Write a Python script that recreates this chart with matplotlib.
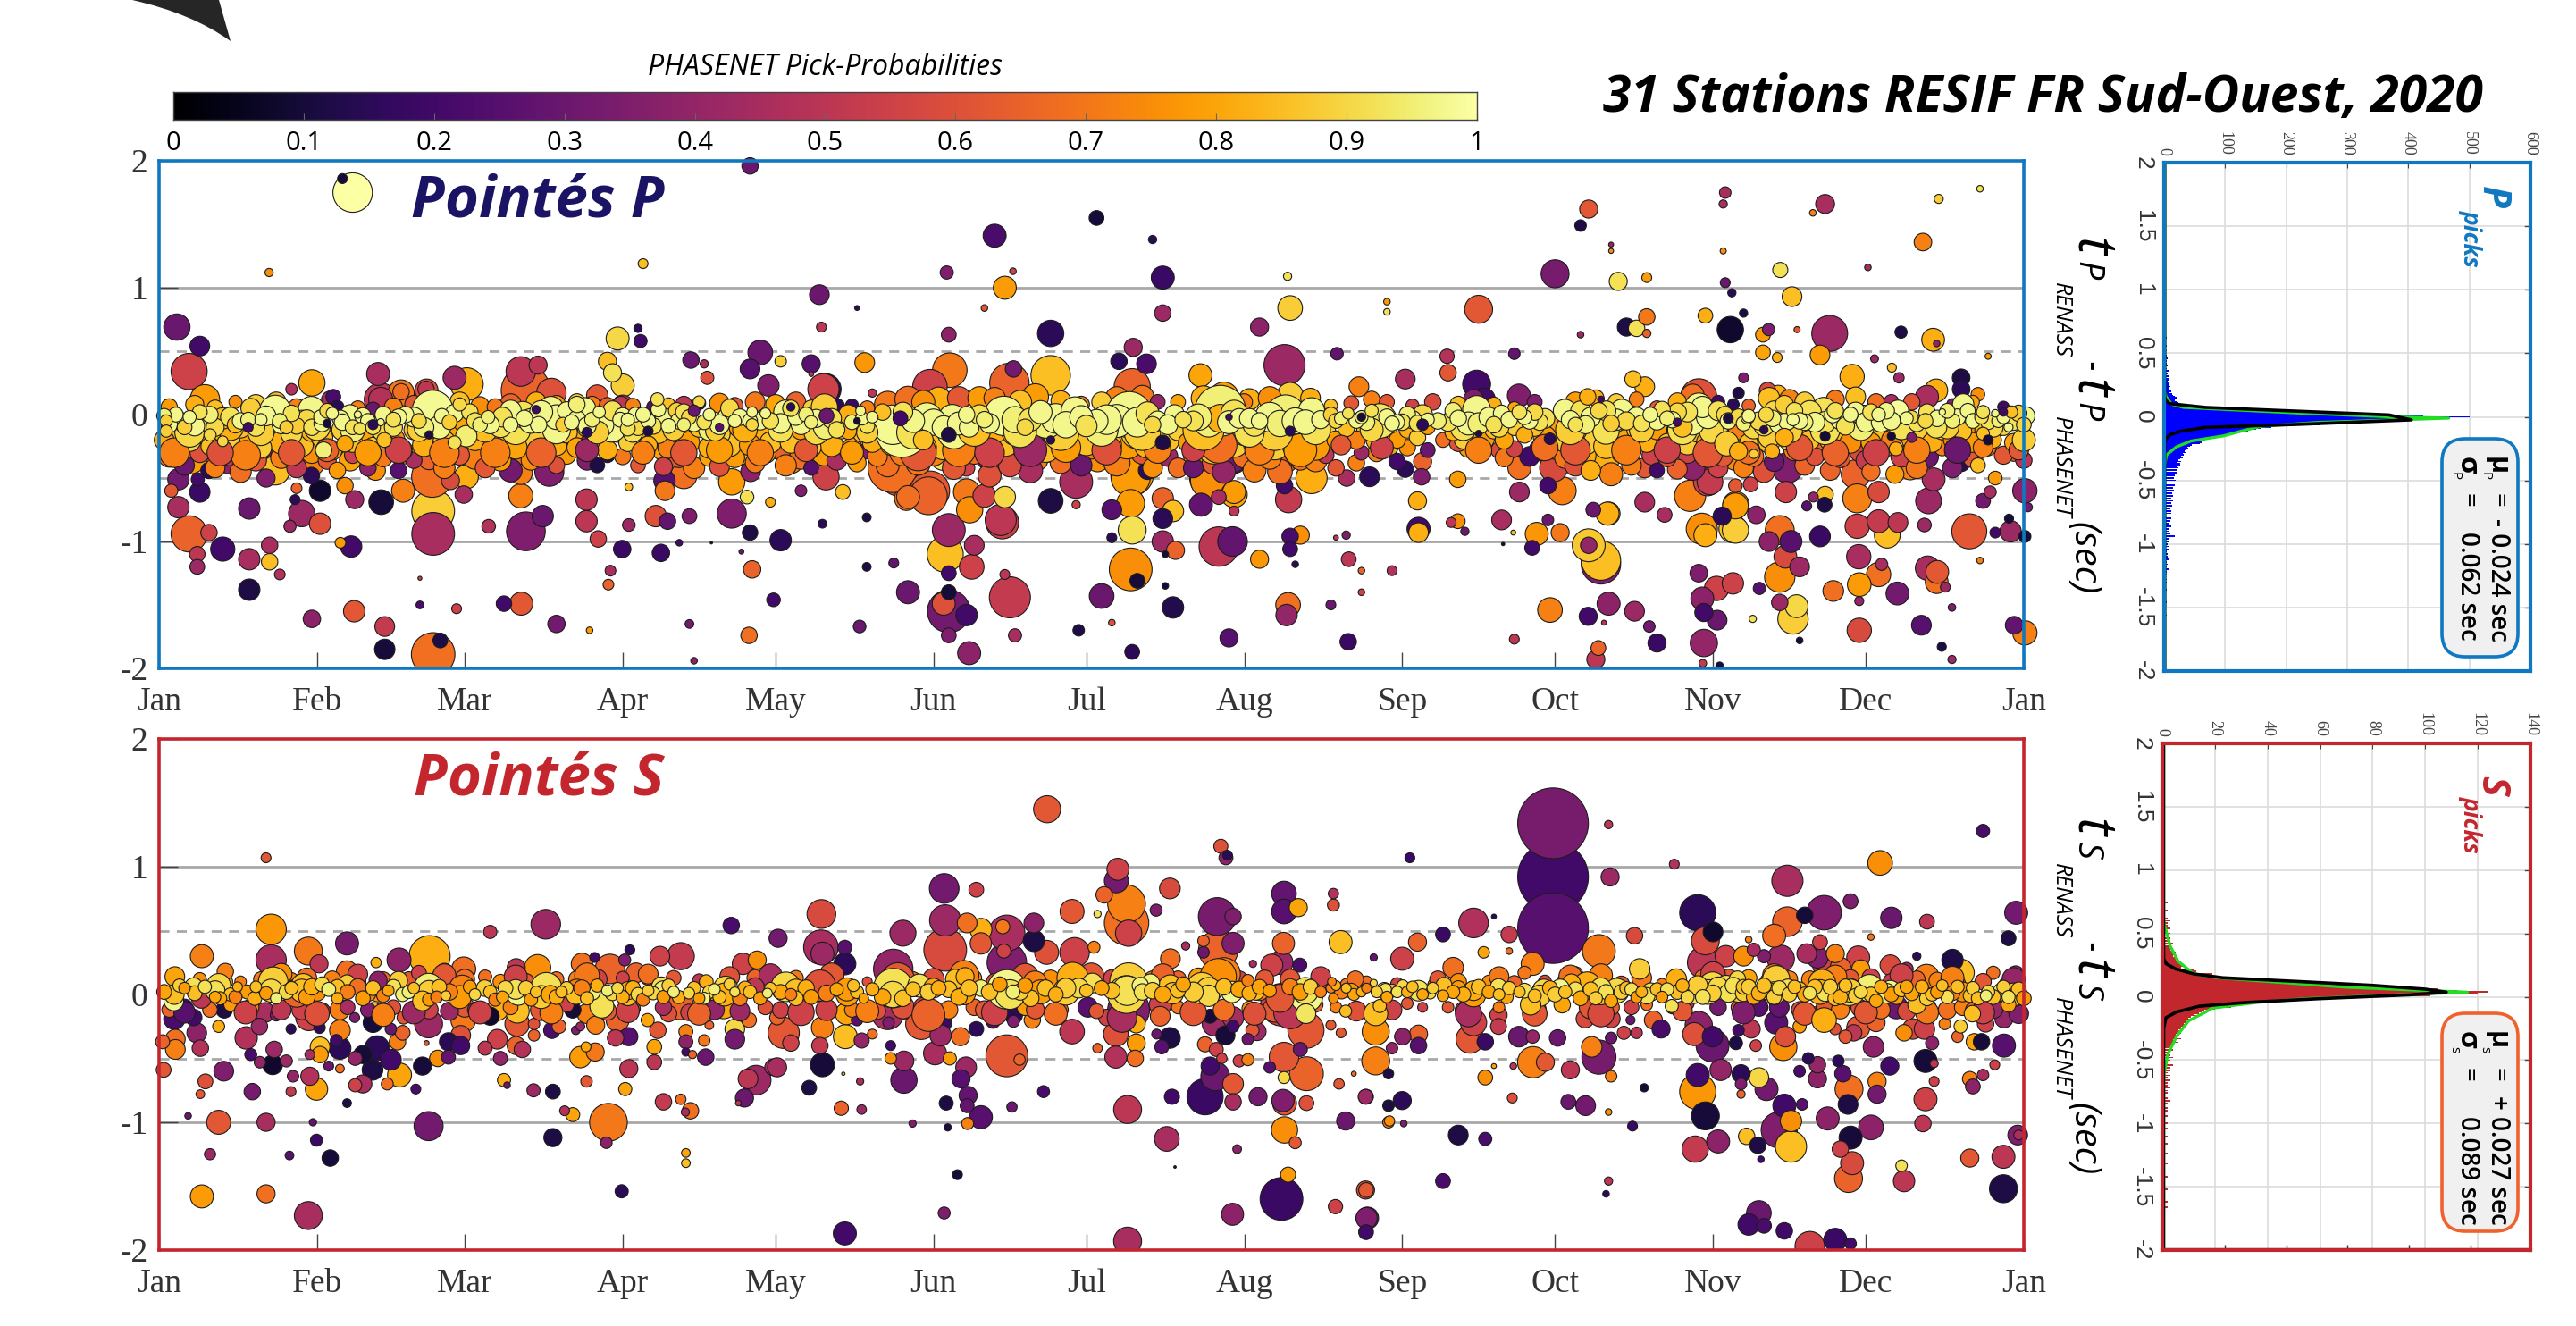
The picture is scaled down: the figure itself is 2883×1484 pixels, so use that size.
import matplotlib

matplotlib.use("Agg")
import matplotlib.pyplot as plt
import numpy as np
from matplotlib.patches import FancyBboxPatch, PathPatch, Rectangle
from matplotlib.path import Path

W, H = 2883, 1484

month_days = [0, 31, 60, 91, 121, 152, 182, 213, 244, 274, 305, 335, 366]
month_names = ["Jan", "Feb", "Mar", "Apr", "May", "Jun", "Jul", "Aug", "Sep", "Oct", "Nov", "Dec", "Jan"]
prob_ticks = [0, 0.1, 0.2, 0.3, 0.4, 0.5, 0.6, 0.7, 0.8, 0.9, 1]
prob_labels = ["0", "0.1", "0.2", "0.3", "0.4", "0.5", "0.6", "0.7", "0.8", "0.9", "1"]

# picks as (day of year, t_renass - t_phasenet in s, phasenet probability, bubble diameter)
p_above = [
    (38,1.75,1,24),(36,1.86,.1,6),(116,1.96,.3,10),(21.6,1.12,.75,5),(95,1.19,.85,6),(3.5,.69,.3,16),(8,.54,.2,12),
    (90,.6,.9,14),(94,.68,.15,5),(94.5,.58,.2,8),(129.6,.945,.3,12),(137,.84,.15,3),(130,.69,.5,6),(118,.49,.3,15),
    (104.4,.43,.3,10),(107,.4,.45,5),(107.6,.29,.6,8),(116,.36,.25,12),(119.6,.23,.35,13),(128,.4,.25,11),(128,.32,.5,3),
    (122,.42,.88,7),(138.5,.41,.77,12),(140,.17,.5,5),(130.8,.2,.15,19),(88,.42,.85,11),(89,.33,.92,11),(91,.23,.88,14),
    (86,.15,.62,13),(91,.07,.5,13),(30,.25,.8,16),(26,.2,.48,7),(43,.32,.45,14),(58,.29,.42,14),(60.4,.24,.82,20),
    (71,.34,.5,18),(74.4,.39,.5,11),(72,.19,.65,30),(77,.17,.6,18),(9,.12,.78,18),(47.5,.17,.7,16),(43.5,.12,.5,20),
    (52.5,.19,.6,14),(5.9,.34,.55,22),(184,1.55,.1,9),(164,1.41,.22,14),(195,1.38,.15,5),(167.6,1.13,.55,4),(154.6,1.12,.35,8),
    (166,1,.78,14),(197,1.08,.18,14),(162,.84,.62,4),(155,.63,.38,9),(175,.64,.15,16),(197,.8,.42,10),(216,.69,.38,11),
    (222,.84,.88,15),(221.5,1.09,.92,5),(241,.89,.78,4),(241,.81,.92,4),(259,.83,.62,17),(280.6,1.62,.62,11),(279,1.49,.12,7),
    (274,1.11,.33,17),(285,1.34,.4,3),(285,1.29,.75,3),(286.4,1.05,.92,11),(292,1.08,.78,6),(279,.63,.42,4),(288,.69,.12,11),
    (290,.68,.92,10),(292,.77,.7,10),(292,.64,.65,5),(303.5,.78,.82,9),(307.4,1.75,.45,7),(307,1.66,.45,5),(327,1.66,.45,11.5),
    (324.6,1.59,.72,4),(349.3,1.7,.88,5.5),(357.4,1.78,.92,4),(346.2,1.36,.72,10.7),(335.4,1.16,.45,4),(318.2,1.14,.92,9.2),
    (320.5,.93,.85,12),(308.4,.67,.08,16),(311,.8,.12,5),(308.7,.96,.15,5),(307.4,1.04,.3,6),(307,1.29,.75,3.7),(315.9,.67,.35,7.4),
    (314.8,.63,.78,9),(314.8,.49,.8,9),(317.6,.45,.82,6),(321.5,.67,.62,3.7),(327.9,.64,.42,21.8),(326,.47,.78,12),(341.9,.65,.12,7.4),
    (348.2,.59,.82,13.9),(348.9,.56,.38,4),(359,.46,.78,3.7),(336.7,.44,.42,4.8),(340.1,.37,.85,5.5),(341.5,.29,.42,6.3),
    (332.3,.3,.82,14.8),(353.7,.29,.12,10.7),(353.7,.2,.15,10.7),(357,.16,.75,8.3),(348.8,.19,.82,14),(347,.14,.45,14),(311,.29,.35,6),
    (315.7,.19,.58,10),(317.8,.16,.82,11),(310,.17,.12,7),(33.5,.12,.45,10),(47.5,.18,.68,10),(52.4,.2,.5,10),(43.5,.12,.48,14.7),
    (34.2,.14,.22,9),(90.7,.08,.5,10),(130.4,.2,.55,19),(155.2,.35,.7,21),(151.3,.22,.55,21),(167.7,.36,.32,10),(166.9,.25,.65,24),
    (175,.31,.85,24),(191.2,.53,.42,11),(188.4,.42,.15,10),(193.8,.4,.22,12),(191,.22,.65,22),(204.4,.31,.8,14),(220.9,.39,.42,25),
    (231.2,.48,.28,7.6),(235.5,.22,.72,12),(244.6,.28,.45,12),(252.8,.46,.48,8.7),(253,.33,.62,10),(258.6,.24,.2,17),(266.9,.15,.35,14),
    (289.3,.28,.85,10),(291.6,.22,.82,12),(266,.48,.28,7),(302.2,.14,.6,22),(260,.12,.2,14),(214,.12,.82,13),
]
p_below_a = [
    (5.9,-.32,.78,23),(18,-.28,.78,14),(22.8,-.23,.8,17.7),(22.8,-.36,.32,17.7),(22.8,-.44,.85,17.7),(29.9,-.38,.72,16),(29.9,-.48,.15,10),
    (31.6,-.6,.08,13),(36.5,-.56,.75,10),(37.5,-.36,.8,13),(38.4,-.67,.42,11),(42.5,-.44,.75,12),(47.9,-.6,.72,14),(43.6,-.69,.1,15),
    (48.4,-.33,.82,9),(53.6,-.29,.78,17.7),(53.6,-.49,.68,25),(60.3,-.49,.82,14.7),(57.2,-.52,.58,11),(59.8,-.63,.45,10.6),(53.8,-.76,.88,26),
    (53.8,-.94,.45,26),(28,-.78,.42,16),(31.6,-.86,.6,13),(25.7,-.88,.42,7.4),(26.7,-.67,.15,6),(27,-.58,.65,6.5),(17.7,-.74,.3,13),
    (13.5,-.4,.38,10),(11.7,-.36,.8,7.4),(9.8,-.44,.15,10),(7.6,-.51,.2,8),(3.8,-.51,.32,13),(8,-.61,.18,12.4),(2.4,-.6,.62,8),(3.8,-.73,.45,13),
    (5.9,-.94,.65,22),(9.8,-.93,.55,10),(12.5,-1.06,.2,14.7),(7.5,-1.1,.5,9.4),(7.5,-1.2,.42,9),(17.7,-1.14,.45,13),(21.7,-1.03,.45,10),
    (21.7,-1.16,.85,10),(23.7,-1.26,.48,6.5),(17.7,-1.38,.12,13),(30,-1.61,.38,10.6),(38.3,-1.55,.62,13),(44.3,-1.67,.52,12),(44.3,-1.85,.1,12.4),
    (53.8,-1.89,.68,26.5),(55.2,-1.78,.12,9),(37.7,-1.04,.2,13),(35.6,-1.01,.78,6.5),(51.2,-1.29,.55,2.4),(51.2,-1.5,.22,4.7),(58.4,-1.53,.55,6),
    (67.7,-1.49,.2,9.4),(71.1,-1.49,.62,14),(78,-1.65,.32,10.6),(84.5,-1.7,.78,4),(88.6,-1.23,.45,6.5),(88.2,-1.34,.65,6.5),(104.1,-1.65,.32,5.3),
    (115.8,-1.74,.68,10),(105,-1.94,.38,4),(120.6,-1.46,.2,8.3),(116.4,-1.22,.65,10.6),(114.3,-1.08,.3,3),(64.7,-.88,.48,8.3),(72,-.92,.35,23.6),
    (75.3,-.8,.3,13),(86.2,-.98,.55,10),(83.9,-.84,.5,13),(83.9,-.67,.5,13),(90.9,-1.06,.18,10.6),(98.5,-1.09,.18,10.6),(102.1,-1.01,.2,4),
    (108.4,-1.01,.1,1.5),(92.2,-.87,.42,7.7),(92.2,-.57,.85,4.7),(99.8,-.84,.28,10),(97.5,-.8,.6,13),(104.1,-.8,.35,9),(99.2,-.52,.25,13),
    (99.3,-.6,.7,12),(103,-.48,.68,16),(98.5,-.29,.8,10),(112.4,-.53,.78,16),(112.4,-.78,.35,17.7),(115.4,-.65,.92,8.3),(116.1,-.45,.38,12),
    (115.4,-.3,.82,16),(116,-.93,.12,9.4),(122,-.99,.15,13),(126,-.6,.35,7),(134.2,-.61,.85,9),(130.9,-.49,.55,16),(130.6,-.3,.78,16),
    (122,-.28,.65,12.4),(124,-.37,.72,14.7),(120,-.69,.82,6),(130.2,-.86,.15,5.3),(138.9,-.81,.12,5.3),(138.9,-1.2,.12,5.3),(144.2,-1.17,.28,6),
    (137.5,-1.67,.3,7.7),(138.6,-.29,.35,9.4),(146.7,-.66,.7,14.7),(145.8,-.44,.62,32),(65.7,-.26,.72,13),(71,-.31,.68,12.4),(71,-.46,.72,14),
    (71,-.64,.72,14.7),(76.6,-.45,.35,17.7),(77.9,-.29,.25,9.4),(83.9,-.24,.42,12.4),(82,-.15,.8,8),(100,-.16,.78,11),(103.5,-.11,.72,12),
]
p_below_b = [
    (147,-1.4,.3,14),(155,-.91,.42,20),(154.3,-1.1,.85,22),(160,-1.03,.45,12),(159.5,-1.2,.55,15),(155,-1.25,.2,9),(155,-1.55,.32,26),(154,-1.49,.6,14),
    (155,-1.4,.1,9),(158.5,-1.58,.2,13),(155,-1.74,.35,9),(168,-1.74,.45,8),(159,-1.88,.38,14),(167,-1.44,.52,25),(166,-1.26,.5,6),(165.5,-.85,.55,20),
    (166,-.65,.9,13),(162,-.64,.55,14),(151,-.64,.65,23),(147,-.65,.68,14),(175,-.68,.12,15),(180,-.53,.45,20),(180,-.71,.55,5),(190.7,-.49,.78,24),
    (190.7,-.7,.78,17),(191,-.91,.92,17),(190.7,-1.22,.75,26),(192,-1.31,.1,9),(185,-1.43,.3,15),(187,-1.64,.6,4),(180.5,-1.7,.12,7),(191,-1.87,.15,9),
    (187,-.97,.15,6),(187,-.75,.25,12),(194,-.44,.15,11),(197,-.66,.65,13),(199,-.76,.85,13),(197,-.82,.15,12),(197,-1.0,.42,13),(199.5,-1.07,.65,11),
    (197.5,-1.1,.1,4),(197.5,-1.35,.1,4),(199,-1.52,.13,13),(210,-1.76,.25,11),(208,-1.04,.5,24),(210.7,-1,.28,18),(216,-1.14,.77,11),(206,-.52,.75,22),
    (211,-.63,.8,16),(204.5,-.71,.28,14),(211,-.37,.32,13),(208,-.65,.45,9),(211,-.76,.5,6),(222,-.96,.22,10),(222,-1.06,.2,9),(224,-.95,.75,11),
    (223,-1.18,.15,4),(221.6,-1.5,.68,15),(221.3,-1.58,.4,13),(230,-1.5,.3,6),(233.4,-1.79,.18,10),(236,-1.4,.55,4),(236,-1.23,.65,4),(233.5,-1.14,.5,9),
    (242,-1.23,.48,6),(233,-.95,.35,5),(231,-.97,.5,3),(247.2,-.93,.82,12),(247.2,-.9,.2,14),(253.6,-.85,.5,6),(254.9,-.84,.75,9),(256.3,-.92,.3,5),
    (263.5,-.83,.45,12),(265.8,-.93,.85,3),(263.8,-1.02,.1,2),(266,-1.77,.5,6),(270.4,-.94,.77,14),(269.5,-1.05,.2,9),(275,-.93,.7,11),(272.6,-.83,.3,7),
    (283,-1.18,.35,24),(283,-1.15,.85,24),(280.6,-1.03,.87,20),(280.6,-1.03,.4,10),(284.5,-.78,.85,14),(281.5,-.75,.3,9),(284.5,-1.49,.38,14),
    (289.6,-1.55,.42,12),(292.5,-1.67,.32,7),(294,-1.8,.18,11),(280.5,-1.59,.2,11),(283.6,-1.64,.5,3),(273,-1.54,.72,15),(282.5,-1.84,.65,9),(282,-1.93,.5,11),
    (295.5,-.79,.45,9),(291.6,-.69,.45,12),(302.2,-1.25,.35,10.7),(305.7,-1.37,.55,14.8),(308.9,-1.33,.55,13),(302.9,-1.45,.38,14),(303.2,-1.56,.2,11),
    (305.8,-1.62,.3,12),(303.2,-1.8,.4,16.6),(303,-1.96,.52,4.6),(306.3,-1.98,.1,4.6),(312.8,-1.61,.92,4.4),(314.1,-1.37,.25,7.4),(318.1,-1.28,.75,18.5),
    (318.1,-1.48,.42,10),(321.4,-1.51,.9,13.9),(320.7,-1.61,.88,18.5),(322,-1.78,.1,4),(320.3,-1,.25,13.3),(318.1,-.91,.68,17.6),(319.2,-1.12,.58,13.9),
    (322,-1.2,.42,12),(316,-1,.38,12),(313.5,-.79,.38,10.7),(309.4,-.91,.88,16),(309.4,-.72,.78,15.7),(306.8,-.8,.15,11),(303.5,-.95,.82,14),(319.3,-.61,.55,13),
    (319.6,-.42,.35,18.5),(312.4,-.55,.55,9),(309.4,-.56,.62,8.3),(304.4,-.53,.52,15.7),(304.4,-.34,.42,13),(326,-.96,.18,12.6),(326.9,-.71,.12,9),
    (327,-.63,.85,10),(323.4,-.72,.25,6),(324.7,-.65,.4,6),(333.6,-1.12,.45,14.8),(333.3,-.88,.55,14.8),(337.5,-.84,.52,13.9),(341.3,-.85,.5,12),
    (339.2,-.95,.85,15.7),(338.1,-1.18,.45,7.4),(337.5,-1.26,.68,14.8),(333.7,-1.34,.78,14.4),(328.6,-1.39,.68,12.6),(333.7,-1.47,.4,5.5),
    (341.2,-1.41,.32,13.9),(333.7,-1.7,.58,14.8),(345.9,-1.66,.25,12),(349.9,-1.83,.12,5.5),(351.9,-1.93,.42,5),(351.9,-1.52,.35,4.6),(357.4,-1.15,.72,4),
    (350.6,-1.36,.42,6),(348.9,-1.32,.68,13.9),(349,-1.24,.62,13.9),(347.1,-1.21,.45,14.8),(346.5,-.87,.42,8.3),(355.3,-.92,.62,21.3),(366.2,-.6,.38,14.8),
    (366.8,-.73,.32,5.5),(360.4,-.5,.78,8.3),(359.4,-.61,.45,7.4),(358,-.68,.32,9),(348.3,-.51,.45,13.9),(347.3,-.68,.42,15.7),(363.4,-.92,.42,13),
    (360.4,-.93,.2,6.5),(366.2,-.96,.1,7.4),(363.1,-.82,.1,5.5),(364.1,-1.66,.28,10.7),(366.2,-1.72,.72,14.8),
    (144,-.42,.68,30),(151.3,-.6,.62,24),(158.5,-.61,.7,16),(159.1,-.75,.75,16),(165.2,-.83,.5,19),(162.8,-.33,.38,16),(165.8,-.22,.55,17),(158.5,-.42,.55,10),
    (154,-.33,.92,17),(172.5,-.36,.7,12),(179.8,-.28,.92,21),(174.2,-.22,.8,24),(191,-.47,.78,26),(189.3,-.22,.68,21),(193.8,-.35,.1,10),(184.2,-.36,.75,14),
    (206,-.5,.78,23),(211,-.36,.3,16),(211,-.61,.78,14),(204.4,-.31,.78,21),(221.1,-.37,.65,14),(224,-.36,.68,12),(226.2,-.5,.82,19),(220.9,-.56,.2,10),
    (221.7,-.67,.52,16),(233.1,-.5,.45,10),(237.6,-.49,.15,12),(241.3,-.25,.82,12),(244.6,-.43,.15,10),(248,-.37,.65,11),(247.8,-.49,.35,10),(247,-.68,.82,11),
    (254.9,-.51,.78,10),(258.6,-.24,.72,17),(263,-.28,.58,10),(267,-.42,.68,14),(267,-.61,.42,12),(274.2,-.25,.72,16),(272.6,-.56,.2,10),(275.4,-.6,.72,17),
    (273.7,-.42,.58,17),(279.3,-.32,.82,17),(283.2,-.33,.82,22),(291.6,-.42,.62,12),(284.3,-.78,.82,14),(300.5,-.64,.72,19),(303.9,-.53,.55,17),
    (309.5,-.33,.75,17),(309.5,-.71,.78,16),(302.8,-.9,.75,19),(308.9,-.9,.85,17),(355,-.18,.75,18.5),(364,-.31,.65,9),(353.7,-.38,.15,10.7),(346.4,-.26,.15,11),
    (343.7,-.43,.72,13),(340.7,-.47,.78,11),(338.7,-.25,.72,13),(333.9,-.29,.58,13),(326.1,-.29,.65,11),(333,-.47,.65,17.6),(333.3,-.66,.72,17.6),(337.5,-.61,.58,13),
]
# lower flank of the central band
p_flank = [
    (2,-.33,.7,13),(5,-.4,.3,12),(8,-.3,.6,12),(11,-.42,.72,12),(14,-.32,.5,13),(16,-.45,.68,13),(19,-.36,.62,13),(21,-.5,.35,11),(24,-.34,.72,13),(27,-.42,.5,12),(30,-.3,.75,13),
    (33,-.36,.62,11),(35,-.44,.78,10),(38,-.32,.55,10),(41,-.42,.38,10),(44,-.34,.7,11),(47,-.44,.25,10),(50,-.36,.45,10),(53,-.35,.65,13),(56,-.42,.72,13),(59,-.32,.62,12),
    (62,-.34,.72,14),(64,-.42,.62,12),(67,-.36,.78,13),(69,-.44,.32,14),(73,-.36,.75,12),(75,-.25,.35,10),(78,-.4,.6,10),(80,-.32,.78,11),(84,-.36,.35,12),(86,-.4,.12,9),(88,-.32,.15,9),
    (91,-.33,.7,10),(94,-.4,.62,9),(96,-.3,.35,8),(99,-.41,.55,11),(102,-.34,.62,12),(105,-.42,.72,13),(108,-.33,.8,12),(110,-.41,.6,12),(113,-.34,.78,12),(117,-.38,.7,12),(119,-.3,.75,13),
    (123,-.4,.72,13),(126,-.34,.68,14),(128,-.42,.25,9),(133,-.36,.45,12),(135,-.28,.62,10),(137,-.38,.78,11),(141,-.33,.72,12),(143,-.4,.68,14),(147,-.3,.6,16),(149,-.38,.7,15),
    (152,-.3,.72,16),(156,-.42,.62,14),(160,-.3,.68,14),(163,-.48,.6,14),(167,-.4,.58,14),(170,-.3,.75,12),(171,-.44,.45,15),(177,-.38,.68,13),(181,-.4,.3,13),(183,-.26,.72,14),
    (186,-.3,.68,14),(188,-.38,.72,16),(193,-.3,.62,14),(195,-.42,.75,12),(198,-.33,.42,12),(200,-.42,.68,12),(203,-.42,.3,12),(207,-.38,.62,14),(209,-.45,.4,14),(213,-.33,.68,14),
    (215,-.44,.72,14),(218,-.34,.72,14),(220,-.45,.68,15),(223,-.3,.62,13),(227,-.36,.72,14),(229,-.32,.5,10),(231,-.42,.62,10),(235,-.38,.72,10),(236,-.3,.42,9),(239,-.3,.72,11),(243,-.37,.2,10),
    (245,-.26,.75,10),(249,-.28,.3,9),(252,-.2,.68,9),(255,-.22,.6,11),(257,-.26,.78,12),(260,-.22,.62,11),(264,-.34,.7,11),(266,-.27,.55,10),(269,-.33,.2,12),(271,-.28,.75,13),(276,-.34,.7,13),
    (278,-.4,.6,13),(281,-.44,.82,12),(285,-.47,.72,14),(287,-.3,.6,12),(289,-.4,.72,12),(293,-.32,.55,12),(294,-.44,.2,9),(296,-.34,.6,11),(298,-.43,.65,12),(300,-.3,.55,13),(301,-.42,.38,15),
    (306,-.42,.55,12),(307,-.33,.62,12),(311,-.42,.72,12),(313,-.33,.68,12),(315,-.45,.6,13),(317,-.37,.3,12),(321,-.28,.72,13),(323,-.4,.65,12),(325,-.33,.6,11),(328,-.44,.65,12),(330,-.34,.62,12),
    (335,-.36,.52,12),(336,-.45,.68,11),(342,-.33,.55,13),(345,-.42,.7,13),(347,-.33,.3,14),(350,-.26,.72,10),(352,-.42,.35,12),(356,-.34,.62,12),(359,-.26,.68,10),(362,-.32,.62,11),(366,-.36,.5,10),
]
# orange and gold row directly under the yellow picks
p_gold = [
    (1,-.2,.82,12),(3,-.22,.85,13),(4,-.1,.8,14),(6,-.2,.9,14),(8,-.13,.88,15),(10,-.25,.85,11),(12,-.12,.82,14),(14,-.22,.88,12),(16,-.1,.85,13),(18,-.2,.8,15),(20,-.26,.88,13),(22,-.14,.85,14),
    (24,-.22,.82,14),(26,-.15,.9,13),(28,-.24,.85,14),(30,-.12,.82,14),(32,-.18,.85,13),(34,-.28,.8,12),(36,-.12,.88,13),(38,-.22,.85,12),(40,-.14,.8,13),(42,-.25,.88,11),(44,-.12,.82,13),(46,-.2,.75,14),
    (48,-.28,.88,11),(50,-.12,.85,12),(52,-.24,.82,14),(54,-.1,.8,15),(56,-.22,.85,14),(58,-.12,.8,16),(62,-.2,.82,13),(64,-.1,.75,15),(66,-.24,.85,14),(68,-.16,.82,15),(70,-.26,.8,14),(72,-.12,.78,18),
    (74,-.22,.88,15),(76,-.12,.85,17),(78,-.24,.82,13),(80,-.14,.85,13),(82,-.26,.8,12),(84,-.1,.88,12),(86,-.2,.85,13),(88,-.28,.82,12),(90,-.14,.78,12),(92,-.22,.88,11),(94,-.12,.78,12),(96,-.24,.82,11),
    (98,-.15,.85,12),(100,-.26,.72,13),(102,-.14,.8,13),(104,-.22,.78,13),(106,-.1,.85,12),(108,-.26,.82,13),(110,-.15,.88,13),(112,-.24,.85,14),(114,-.1,.78,13),(116,-.24,.78,13),(118,-.12,.82,14),(120,-.22,.85,13),
    (122,-.14,.8,14),(124,-.22,.85,13),(126,-.12,.78,12),(128,-.26,.88,12),(130,-.16,.85,14),(132,-.24,.82,14),(134,-.1,.88,14),(136,-.26,.78,12),(138,-.14,.85,12),(140,-.22,.82,12),(142,-.14,.78,13),(144,-.22,.8,16),
    (146,-.3,.7,16),(148,-.16,.85,18),(150,-.26,.82,16),(152,-.14,.88,20),(154,-.24,.85,18),(156,-.12,.85,16),(158,-.22,.78,16),(160,-.14,.82,16),(162,-.24,.88,16),(164,-.12,.82,16),(166,-.2,.85,20),(168,-.14,.78,16),
    (170,-.22,.88,16),(172,-.14,.82,18),(174,-.26,.85,18),(176,-.13,.88,18),(178,-.22,.82,16),(180,-.13,.85,16),(182,-.22,.85,16),(184,-.14,.78,18),(186,-.24,.85,18),(188,-.14,.88,20),(190,-.22,.78,20),(192,-.14,.85,20),
    (194,-.24,.82,16),(196,-.13,.78,15),(198,-.2,.85,14),(200,-.12,.88,13),(202,-.22,.78,12),(205,-.14,.82,20),(207,-.26,.85,20),(209,-.14,.78,20),(211,-.22,.88,18),(213,-.14,.8,16),(215,-.22,.82,14),(217,-.14,.85,15),
    (219,-.24,.88,18),(221,-.12,.85,20),(223,-.24,.9,16),(225,-.13,.82,18),(227,-.25,.78,17),(229,-.13,.88,12),(231,-.2,.78,11),(233,-.11,.85,10),(235,-.2,.72,11),(237,-.12,.85,12),(239,-.2,.82,13),(241,-.12,.9,12),
    (243,-.2,.78,10),(245,-.12,.82,10),(247,-.18,.88,10),(249,-.1,.78,9),(254,-.14,.82,10),(256,-.2,.88,11),(258,-.12,.85,13),(260,-.19,.78,13),(262,-.12,.85,11),(264,-.2,.8,11),(266,-.1,.88,10),(268,-.16,.82,10),
    (270,-.1,.85,11),(272,-.18,.78,14),(274,-.12,.78,20),(276,-.2,.88,15),(278,-.12,.85,14),(280,-.22,.88,15),(282,-.14,.82,16),(284,-.25,.85,15),(286,-.12,.88,14),(288,-.2,.8,13),(290,-.12,.85,12),(292,-.22,.82,12),
    (294,-.12,.78,12),(296,-.22,.85,11),(298,-.13,.82,13),(300,-.22,.88,15),(302,-.12,.85,15),(304,-.22,.82,14),(306,-.12,.8,13),(308,-.22,.88,12),(310,-.12,.72,12),(312,-.22,.85,11),(314,-.12,.8,12),(316,-.22,.85,13),
    (318,-.12,.8,13),(320,-.2,.88,13),(322,-.1,.75,12),(324,-.2,.85,12),(326,-.1,.8,13),(328,-.2,.82,13),(330,-.12,.85,13),(332,-.22,.75,13),(334,-.12,.88,13),(336,-.22,.78,12),(338,-.12,.85,13),(340,-.2,.72,12),
    (342,-.12,.82,12),(344,-.2,.78,12),(346,-.12,.88,12),(348,-.22,.82,12),(350,-.12,.85,12),(352,-.2,.72,11),(354,-.13,.85,11),(356,-.22,.78,12),(358,-.12,.85,10),(360,-.2,.82,10),(362,-.1,.88,10),(364,-.22,.8,11),
]
# larger warm picks breaking up the gold row
p_big_warm = [
    (3,-.3,.72,18),(12,-.3,.6,16),(17,-.32,.72,18),(26,-.3,.62,16),(33,-.28,.65,14),(41,-.3,.78,16),(47,-.28,.55,16),(56,-.3,.72,18),(66,-.3,.72,18),(75,-.3,.65,18),(84,-.28,.42,14),(95,-.3,.72,14),(103,-.3,.62,16),(110,-.28,.78,16),
    (118,-.3,.72,16),(127,-.28,.62,14),(136,-.3,.78,14),(149,-.3,.62,22),(157,-.28,.72,20),(163,-.3,.55,18),(171,-.28,.42,20),(178,-.26,.78,18),(186,-.28,.6,18),(196,-.28,.72,16),(203,-.28,.55,14),(208,-.24,.68,22),(216,-.28,.72,18),
    (224,-.28,.78,20),(232,-.24,.62,12),(240,-.26,.55,14),(259,-.28,.72,16),(272,-.26,.68,16),(278,-.28,.62,18),(288,-.28,.72,18),(296,-.28,.55,16),(304,-.3,.62,18),(312,-.3,.68,14),(322,-.26,.62,16),(329,-.3,.65,16),(337,-.3,.55,16),
    (345,-.28,.72,16),(353,-.28,.3,16),(358,-.26,.72,12),(365,-.28,.62,12),
]
# warm picks rising above the band
p_peaks = [
    (2,.06,.78,10),(7,.08,.82,11),(11,.05,.85,10),(15,.1,.75,8),(19,.08,.88,12),(23,.1,.85,12),(27,.06,.72,10),(31,.05,.35,8),(35,.06,.15,8),(39,.05,.72,9),(42,.04,.3,9),(46,.06,.72,11),(50,.08,.62,11),
    (55,.1,.55,10),(59,.1,.85,12),(63,.07,.75,11),(66,.06,.7,10),(69,.08,.65,13),(74,.1,.82,12),(78,.08,.78,11),(82,.1,.88,10),(85,.08,.72,10),(88,.07,.65,10),(93,.07,.72,9),(97,.06,.25,8),(100,.08,.85,8),
    (103,.08,.5,10),(106,.09,.15,8),(110,.09,.75,12),(113,.07,.62,10),(117,.1,.7,12),(121,.08,.8,12),(125,.1,.65,12),(128,.05,.88,10),(133,.06,.15,10),(136,.07,.18,8),(139,.05,.72,9),(143,.08,.7,16),
    (147,.12,.68,16),(150,.1,.75,14),(153,.12,.82,15),(157,.13,.62,14),(161,.13,.78,14),(164,.13,.72,13),(169,.1,.85,14),(172,.14,.78,16),(177,.11,.82,12),(181,.08,.72,10),(185,.1,.88,12),(188,.13,.72,14),
    (193,.14,.7,14),(196,.1,.4,9),(200,.1,.8,9),(205,.13,.82,15),(209,.14,.78,18),(213,.1,.72,10),(218,.13,.75,14),(222,.15,.88,16),(226,.13,.82,12),(230,.07,.85,8),(234,.09,.62,9),(238,.12,.72,10),(241,.1,.62,9),
    (246,.07,.55,8),(250,.1,.58,10),(255,.08,.85,10),(258,.12,.35,12),(262,.08,.82,9),(266,.05,.8,8),(270,.1,.35,9),(278,.1,.78,12),(282,.13,.82,10),(286,.1,.88,10),(290,.12,.72,9),(294,.05,.62,9),(298,.1,.82,11),
    (301,.15,.68,14),(306,.1,.2,8),(309,.08,.15,7),(312,.07,.65,8),(316,.13,.85,13),(320,.12,.72,12),(323,.1,.88,12),(329,.12,.7,11),(333,.14,.85,12),(337,.1,.68,10),(340,.1,.45,9),(344,.1,.62,10),(352,.08,.35,7),(356,.1,.8,8),(362,.06,.2,7),
]
p_yellow = [
    (12.5,-.03,.85,13),(9,-.05,.9,12),(6,-.02,.97,8),(1.4,-.05,.88,7.4),(1.4,-.13,.88,7.4),(3.3,0,.97,9),(8,.02,.92,9),(10,-.16,.9,7.4),(12.5,-.21,.9,6.5),
    (18,.05,.88,12),(20,-.04,.97,7.4),(22.8,.03,.98,19),(23.7,-.05,.95,9),(17.5,-.04,.95,9),(27,-.09,.88,10),(29.9,.04,.97,16),(31.8,-.02,.97,9),
    (34,.01,.97,7.4),(29,-.04,.9,12),(32.3,-.28,.95,10),(35.6,-.03,.97,10),(37.5,0,.97,12),(39,0,.97,4.4),(39.4,-.11,.92,7.4),(36.5,-.23,.8,10),
    (43.5,-.06,.97,4.4),(44.2,-.2,.85,9),(48.4,0,.97,10),(53.7,.03,.98,25),(55.5,-.01,.97,9),(60.3,-.06,.8,14.7),(60.3,-.17,.95,13),(59,.08,.9,8),
    (58,-.22,.92,8),(64.6,-.02,.95,8),(67.4,-.02,.92,12),(71.4,0,.92,16),(76.9,.04,.97,16),(74.5,-.08,.97,10),(71.7,-.03,.97,10),(79.3,-.08,.88,9),
    (82,.08,.95,10),(83.6,.05,.97,13),(85,-.04,.95,9),(86.4,.02,.97,7.4),(88.8,-.1,.97,18),(93.5,0,.97,9),(94,-.1,.9,10),(92,-.04,.97,8),(97.8,.12,.92,8),
    (99.3,-.03,.97,12),(101.6,.03,.88,10),(104,-.02,.9,9),(106,.1,.9,7.4),(108,0,.97,7.4),(109.2,-.13,.88,12),(111.6,-.02,.97,12),(116.4,.02,.97,6.5),
    (116.4,-.08,.9,7.4),(123,.02,.97,14.7),(119,.01,.97,6.5),(125,-.02,.97,10),(130.6,.06,.88,16),(130.8,-.1,.95,14.7),(135.3,0,.82,12),(137.7,.03,.97,6),
    (135.3,-.13,.8,10),(145.8,-.13,.98,32),(142,.02,.85,10),(2,-.08,.97,10),(5,-.1,.88,9),(15,-.08,.85,10),(25,-.1,.88,8),(41,-.05,.97,9),(46,-.04,.92,9),
    (51,-.05,.9,9),(57,-.06,.88,9),(63,-.08,.95,9),(69,-.08,.97,9),(81,-.06,.97,9),(90.5,-.04,.97,9),(96,-.05,.97,9),(103,-.08,.95,8),(113,-.05,.97,8),(128,-.06,.95,8),
    (179.8,.03,.97,17),(190.4,0,.97,28),(174.2,-.05,.95,21),(165.8,-.01,.98,24),(144,-.08,.98,24),(150.7,-.03,.97,19),(155.7,-.03,.97,17),(158.5,0,.97,10),
    (162,-.04,.95,10),(199.3,0,.97,12),(208.3,.03,.95,31),(208.3,-.03,.82,17),(212,-.03,.97,12),(221.1,0,.95,24),(226.2,.03,.97,16),(230,0,.88,9),(233.4,.01,.92,7),
    (239.6,-.05,.93,21),(245,0,.95,10),(248,0,.9,12),(258.6,.04,.97,17),(254,.03,.95,10),(263.5,.01,.97,10),(275.9,.03,.97,14),(280.4,.14,.82,10),(282.6,.03,.9,10),
    (287.1,.03,.97,14),(292.7,0,.97,9),(302.2,.06,.97,17),(307.3,0,.9,10),(316.7,-.03,.95,10),(366.4,-.01,.97,11),(366,-.2,.88,14),(363,-.1,.97,5.5),(363.6,.02,.85,7.4),
    (360.4,.01,.97,4.6),(357.7,-.02,.92,8.3),(354.1,.08,.97,13),(348.8,-.1,.92,13),(346.7,-.05,.9,9),(350,.02,.97,4),(341.3,.03,.99,13),(337.5,0,.97,8.3),(334.5,-.01,.97,13),
    (332,0,.97,9),(328.5,0,.98,10),(326.7,.04,.92,14.8),(320.7,-.04,.98,7.4),(319.6,-.05,.97,11),(319,.08,.88,11),(315.4,0,.9,9),(316,-.18,.88,13),(311.8,-.02,.92,8.3),
    (304.7,-.13,.9,14.8),(307.7,-.23,.88,14.8),(302.9,.06,.97,13),(310,-.29,.82,11),(313,-.31,.88,5.5),(316.6,-.29,.82,9),(319,-.18,.82,11),(358,-.15,.85,7.8),
    (357,-.4,.85,9),(340.9,-.27,.82,8.3),(150,-.2,.85,12),(170,-.1,.9,10),(184,-.05,.97,14),(195,-.08,.9,10),(203,-.05,.92,12),(216,-.05,.97,10),(236,-.02,.95,8),
    (243,-.06,.97,9),(251,-.05,.95,10),(268,-.02,.97,9),(271,-.06,.92,10),(278,-.08,.92,9),(285,-.07,.88,10),(296,-.03,.95,9),(299,-.1,.85,12),(323,-.06,.95,10),
    (344,-.02,.9,8),(352,-.05,.95,9),(361,-.05,.95,8),
    (1,-.01,.95,9),(4,-.05,.97,11),(7,-.09,.97,12),(10,0,.95,10),(11,-.1,.9,11),(14,-.02,.92,12),(16,-.05,.97,10),(19,-.1,.92,11),(21,-.01,.97,12),(24,-.08,.98,11),(26,.01,.92,10),(28,-.05,.97,13),(30,-.1,.92,10),
    (32,-.07,.97,10),(33,.03,.9,9),(36,-.06,.97,10),(38,-.1,.92,9),(40,-.01,.97,10),(42,-.1,.92,9),(44,0,.97,10),(46,-.1,.92,11),(47,-.02,.97,10),(50,-.02,.97,12),(52,-.1,.95,12),(55,-.1,.97,14),(58,.01,.97,11),(61,.02,.92,10),
    (62,-.05,.92,10),(65,-.08,.97,11),(67,-.09,.92,14),(69,.03,.97,13),(73,-.05,.97,15),(75,.02,.97,14),(78,-.02,.97,15),(80,.03,.97,11),(82,-.04,.97,11),(84,-.09,.97,11),(87,-.08,.97,14),(89,.03,.92,12),(91,-.01,.97,10),
    (92,-.11,.92,9),(95,.0,.97,9),(97,-.09,.92,10),(98,.04,.97,9),(100,-.09,.97,9),(102,-.05,.95,10),(103,.02,.92,10),(105,-.07,.97,10),(107,-.06,.92,9),(110,-.08,.97,12),(112,.05,.9,11),(114,-.02,.97,10),(116,-.05,.97,9),
    (118,-.05,.97,11),(120,-.05,.92,10),(122,-.07,.97,12),(124,.05,.92,10),(126,-.08,.97,12),(127,0,.95,9),(129,-.03,.97,11),(132,-.03,.92,12),(133,-.12,.92,10),(136,-.06,.95,9),(138,-.03,.97,8),(139,-.09,.92,9),(140,-.02,.97,7),
    (146,.02,.92,12),(148,-.05,.97,14),(152,-.06,.97,16),(154,-.1,.97,14),(157,-.07,.97,14),(159,-.1,.97,12),(161,0,.92,12),(163,-.07,.97,12),(168,-.04,.95,16),(171,-.04,.92,14),(173,.02,.97,14),(176,-.03,.97,18),(178,-.08,.97,16),
    (181,-.02,.97,14),(182,-.09,.92,13),(186,-.04,.97,18),(188,-.05,.97,20),(192,-.06,.97,18),(194,.01,.92,14),(196,-.05,.97,12),(198,-.08,.97,12),(201,-.04,.92,10),(204,-.02,.95,16),(206,-.06,.95,18),(210,-.06,.97,14),(211,.01,.92,16),
    (214,-.03,.97,12),(215,-.08,.92,14),(218,-.02,.97,18),(220,-.07,.95,16),(223,-.05,.97,16),(225,-.06,.97,15),(228,-.04,.97,11),(231,-.05,.9,9),(232,-.03,.95,8),(235,-.05,.97,9),(237,-.06,.95,10),(238,.03,.92,8),(241,-.02,.97,10),
    (242,-.07,.97,9),(244,-.06,.92,10),(246,-.04,.97,11),(247,-.07,.92,10),(249,-.04,.97,8),(253,-.06,.92,11),(255,-.03,.97,10),(257,-.07,.97,14),(259,-.07,.95,13),(261,-.02,.97,12),(262,-.08,.92,10),(265,-.04,.97,10),
    (267,.02,.92,9),(269,-.05,.97,10),(270,.02,.9,10),(272,-.03,.92,12),(277,-.04,.97,11),(279,.03,.92,12),(280,-.08,.95,11),(281,-.02,.97,12),(284,.03,.92,12),(286,-.04,.97,13),(288,-.05,.9,11),(290,-.02,.97,12),(291,-.07,.92,10),
    (294,-.05,.97,11),(295,.04,.92,10),(297,-.04,.97,10),(298,.02,.9,11),(300,.02,.92,12),(301,-.07,.97,14),(304,-.02,.97,14),(306,.03,.92,12),(308,-.05,.97,10),(310,-.02,.9,10),(311,-.07,.95,9),(312,-.01,.97,8),
    (314,-.05,.9,11),(315,-.09,.92,12),(317,.03,.9,12),(318,-.07,.97,12),(321,.03,.92,10),(322,-.05,.97,10),(324,.02,.92,14),(325,-.06,.97,12),(327,-.06,.92,13),(329,.03,.92,10),(330,-.04,.97,12),(331,-.09,.92,11),(333,.02,.97,12),
    (335,-.06,.97,12),(336,.02,.92,10),(338,-.06,.97,12),(339,.03,.97,10),(340,-.05,.97,11),(343,-.03,.97,8),(345,-.07,.92,10),(347,.02,.92,10),(349,-.03,.97,10),(351,.03,.95,9),(353,-.02,.97,10),(355,.03,.97,9),(356,-.05,.97,9),
    (358,.02,.92,8),(359,-.06,.92,9),(362,-.02,.97,8),(364,-.06,.92,10),(365,.01,.88,10),(366,-.08,.9,9),
    (6,-.14,.9,18),(14,-.1,.82,16),(20,-.14,.88,16),(31,-.1,.9,16),(38,-.12,.95,15),(44,-.12,.9,14),(51,-.12,.88,14),(64,-.12,.85,15),(70,-.12,.92,18),(78,-.12,.97,17),(86,-.14,.88,14),(93,-.14,.92,12),(101,-.12,.88,13),(108,-.12,.95,13),
    (115,-.12,.82,15),(122,-.12,.92,15),(129,-.14,.9,15),(139,-.14,.88,13),(148,-.14,.92,20),(156,-.14,.97,20),(160,-.12,.85,20),(169,-.13,.92,20),(177,-.14,.88,22),(185,-.12,.95,20),(193,-.14,.88,22),(205,-.12,.85,25),(214,-.14,.92,18),
    (219,-.14,.88,22),(227,-.12,.92,18),(238,-.12,.9,14),(256,-.1,.92,16),(263,-.1,.9,12),(277,-.12,.88,18),(284,-.13,.92,16),(291,-.12,.88,15),(299,-.12,.92,18),(305,-.1,.92,18),(313,-.1,.9,14),(320,-.12,.88,16),(327,-.12,.92,18),
    (334,-.1,.95,16),(342,-.1,.92,15),(351,-.1,.88,14),(360,-.1,.9,12),
]
# dark picks that sit on top of the yellow ones
p_dark_top = [
    (17.5,-.1,.2,6),(33,-.07,.1,5),(42,-.08,.15,6),(53,-.16,.12,5),(74,.04,.2,5),(84,-.14,.15,6),(96,-.13,.12,6),(105,.03,.3,7),(110,-.1,.25,5),(124,.06,.15,5),(131,-.01,.3,9),(137,-.05,.1,4),
    (145.5,-.03,.2,9),(155,-.16,.12,9),(175,-.2,.15,5),(197,-.22,.12,9),(210,-.02,.2,4),(222,-.13,.15,6),(236,-.02,.1,5),(248,-.08,.15,7),(259,-.15,.12,4),(273,-.19,.15,7),(283,.12,.2,4),(298,-.06,.2,5),
    (308,-.03,.12,6),(315,-.12,.15,5),(327,-.17,.1,6),(340,-.17,.1,5),(344,-.18,.35,6),(359,-.2,.1,6),(362,.02,.2,5),
]

s_above = [
    (21,1.07,.62,6),(22,.51,.77,18.5),(22,.27,.45,18.5),(8.4,.3,.72,14),(29.3,.34,.7,17),(36.9,.4,.33,14),(42.6,.25,.82,6.3),(47.1,.27,.38,14.6),(53.1,.3,.82,25),
    (65,.49,.5,8),(75.9,.55,.42,18),(92.4,.35,.15,6),(98.3,.3,.55,12),(102.4,.3,.52,16.5),(112.3,.54,.22,10),(83,.24,.68,13),(88.5,.2,.65,18),(74.3,.21,.75,16),
    (70.1,.21,.5,11),(59.8,.2,.68,14.6),(56,.18,.55,10),(36.9,.18,.68,13),(93.6,.17,.65,12),(114.6,.24,.55,13),(117.4,.27,.75,11),(91.4,.27,.35,7.3),(85.5,.29,.2,6),
    (31.4,.24,.5,11),(174.3,1.45,.62,16.5),(208.4,1.16,.6,8.5),(209.4,1.07,.38,8.5),(209.7,1.09,.15,6),(154.1,.83,.32,18),(160.4,.82,.55,9),(130,.63,.58,17.5),
    (121.5,.44,.32,11),(146,.48,.42,15.8),(129.9,.37,.45,21),(130.2,.32,.42,14),(134.6,.37,.25,8.5),(134.6,.24,.15,13.4),(144.1,.2,.4,24),(154.3,.58,.42,19),
    (154.3,.35,.58,26),(158.6,.56,.68,12),(161.3,.51,.82,13.4),(166.4,.48,.45,22),(165.6,.53,.7,8.5),(161.3,.4,.62,13),(171.7,.56,.38,12),(171.7,.42,.12,13),
    (166.4,.25,.35,24),(165.8,.34,.55,8.5),(174.2,.33,.6,14.6),(179.2,.65,.62,14.6),(184.2,.63,.92,4.4),(189.9,.71,.72,23),(189.9,.56,.68,27),(188.2,.98,.55,13.4),
    (187.9,.89,.32,14.6),(185.5,.78,.65,10),(190.3,.48,.55,16),(179.7,.33,.55,18),(183.5,.37,.72,7.3),(198.4,.83,.58,12.6),(195.7,.66,.35,7.3),(198.5,.28,.68,12),
    (201.5,.38,.45,5),(207.7,.61,.33,23),(210.8,.61,.35,10),(207.9,.35,.65,24),(210.8,.4,.35,13.4),(205,.42,.65,7),(205,.33,.3,7),(220.8,.79,.28,15),(220.8,.65,.25,15),
    (223.6,.68,.8,11),(230.5,.79,.48,6.3),(230.5,.7,.6,7.3),(231.9,.41,.85,14),(238.4,.29,.28,4.4),(220.7,.4,.65,13.4),(220.2,.25,.42,14.6),(223.9,.23,.22,8.5),
    (214.7,.24,.45,4.4),(218.4,.23,.55,13.4),(284.5,1.33,.5,5),(245.5,1.07,.18,6),(284.8,.92,.42,11),(297.4,1.02,.48,6),(258,.56,.47,18),(262,.61,.15,3),(252,.47,.18,9),
    (247,.41,.65,11),(265,.47,.52,10),(289.6,.46,.58,10),(260,.33,.8,7),(265,.34,.68,4),(244,.28,.55,14),(302,.64,.15,22),(305,.49,.08,12),(303.5,.42,.58,17),
    (319.6,.89,.45,19),(326.8,.64,.35,21),(332,.73,.35,9),(319.6,.57,.65,18),(317,.46,.68,14),(323,.62,.1,10),(337.8,1.03,.75,15),(340,.6,.3,13),(347,.57,.5,9),
    (336,.45,.7,4),(358,1.28,.22,8),(364.5,.64,.32,14),(363,.44,.12,9),(345,.3,.15,5),(352,.27,.12,13),(326,.41,.55,9),(329,.32,.72,11),(325.5,.29,.35,13),(323.4,.32,.45,12),
    (333.5,.29,.55,14),(339.8,.23,.58,12.5),(303.1,.25,.5,19.4),(307.5,.3,.55,13),(311,.3,.75,12),(312,.43,.72,4),(318.3,.28,.42,16.6),(315,.3,.35,8),(313,.35,.45,8),
    (346.9,.14,.72,15),(343,.2,.42,8),(353.6,.17,.85,16.6),(360,.17,.68,8),(364.4,.16,.38,10),(334,.2,.78,11),(330,.21,.65,12.5),(326.8,.23,.55,14),(282.6,.34,.7,20),
    (269.6,.24,.72,14),(254,.21,.68,12.5),(273.6,.92,.2,43),(273.6,1.34,.33,43),(273.6,.52,.25,43),
]
s_below_a = [
    (3,-.19,.22,13),(6.8,-.18,.2,10),(12.8,-.12,.12,10),(3.2,-.35,.68,12),(.7,-.37,.65,8.5),(3.2,-.43,.72,12),(7.4,-.3,.38,12),(8.1,-.42,.48,10),(11.7,-.25,.82,7.3),
    (.9,-.59,.62,9),(12.7,-.6,.35,12),(9.1,-.68,.6,9),(8.1,-.78,.62,5.3),(5.7,-.95,.3,4),(11.7,-1,.62,14.6),(10,-1.25,.42,6.8),(8.4,-1.58,.78,14),(21,-1.56,.68,11),
    (29.3,-1.73,.45,17),(17.1,-.34,.48,13.6),(19.7,-.25,.42,10),(20.8,-.14,.45,12),(23,-.16,.35,7.3),(25.9,-.27,.15,6),(22.6,-.43,.42,10),(18,-.47,.22,7.3),(19.8,-.53,.4,7),
    (22.3,-.55,.08,12),(25,-.52,.42,7.3),(26.3,-.64,.4,7),(18.3,-.76,.33,10),(25.9,-.76,.52,6),(29.6,-.64,.48,11),(30.9,-.74,.8,13.6),(33.3,-.56,.3,6),(35.5,-.58,.68,5.3),
    (36.9,-.85,.12,5.3),(21,-1,.45,11),(30.2,-1,.28,4.4),(30.9,-1.14,.18,7.3),(25.6,-1.26,.25,5.3),(33.6,-1.28,.1,10),(29.4,-.18,.55,16),(31.5,-.26,.15,7),(35.5,-.12,.72,12),
    (35.5,-.28,.72,12.6),(35.5,-.42,.15,13.4),(34.8,-.36,.2,7.3),(31.6,-.41,.85,12),(31.6,-.47,.78,10),(29.6,-.47,.45,6),(42,-.14,.85,12),(42,-.22,.1,12),(38.4,-.18,.35,6),
    (45.5,-.27,.3,7),(47.8,-.3,.65,9),(46.8,-.37,.72,10),(42.8,-.42,.15,15),(45.5,-.51,.2,12.6),(41.9,-.59,.12,12.6),(40,-.47,.1,11),(38.5,-.5,.4,8.5),(47.2,-.63,.8,14.6),
    (40,-.7,.45,11),(38.5,-.71,.55,8),(44.8,-.7,.68,7.3),(50.4,-.74,.22,6),(51.7,-.56,.1,11),(52.9,-1.03,.32,17.7),(52.9,-.23,.42,17),(59.7,-.2,.7,15),(59.2,-.32,.6,12),
    (56.8,-.37,.15,11),(59.2,-.4,.2,11),(54.7,-.5,.75,10),(56.8,-.49,.28,8.5),(48,-.18,.62,8),(52.5,-.38,.62,3),(65,-.17,.08,11),(66.4,-.12,.82,13),(70.3,-.13,.85,14.6),
    (70.3,-.23,.62,15),(66.4,-.35,.55,12),(64,-.42,.5,8.5),(67,-.5,.4,8.5),(71.3,-.43,.48,10),(70.1,-.4,.65,11),(73.6,-.32,.65,7),(73.6,-.23,.6,7),(77.1,-.28,.22,10),
    (78.5,-.25,.65,8.5),(81.2,-.12,.1,10),(85.7,-.24,.72,11),(82.7,-.49,.78,13),(85.6,-.45,.7,11),(83.8,-.41,.8,6),(81.8,-.28,.35,5.3),(82.7,-.25,.42,5.3),(67.7,-.67,.82,8),
    (68.3,-.71,.3,4),(73.5,-.75,.42,8),(77.3,-.76,.12,9),(83.9,-.68,.62,7),(79.6,-.91,.48,6),(81.2,-.94,.8,8.5),(88.2,-1,.7,23),(87.8,-1.16,.38,7),(77.3,-1.12,.12,11),
    (103.4,-1.24,.8,5.3),(103.4,-1.32,.85,5.3),(90.8,-1.54,.15,8),(92.2,-.58,.5,11),(91.5,-.74,.8,8),(99,-.84,.52,10),(102.4,-.82,.68,6.3),(104.3,-.91,.68,10),(103.3,-.92,.45,5),
    (97.2,-.53,.5,9),(97.2,-.41,.8,9),(97.9,-.28,.62,10),(95.9,-.2,.8,8),(92.2,-.33,.25,11),(89.6,-.34,.5,10),(102.3,-.09,.65,16.5),(103.4,-.29,.72,8.5),(103.4,-.37,.38,8.5),
    (103.4,-.45,.2,5),(104.7,-.47,.65,5),(107.3,-.49,.3,10),(107,-.36,.7,7),(108,-.24,.65,5.3),(113,-.27,.9,12),(113,-.35,.32,12),(115.8,-.2,.68,9),(110.8,-.08,.8,17),
    (117.2,-.67,.42,18),(115.6,-.66,.5,12),(114.9,-.81,.3,11),(113.7,-.85,.5,3.4),(120.5,-.57,.45,10),(90,-.2,.65,14),(100,-.15,.6,10),(84,-.15,.72,12),(60,-.1,.62,12),
    (28,-.12,.55,12),(14,-.08,.78,8),
]
s_below_b = [
    (122.6,-.3,.62,19),(121.3,-.57,.45,11.6),(130.2,-.26,.72,13.4),(129.7,-.4,.52,10),(130.2,-.55,.1,14.6),(124,-.38,.55,10),(134.7,-.33,.85,14.6),(134.9,-.15,.8,13.4),
    (137,-.2,.25,7),(137.9,-.36,.4,9.2),(140,-.31,.68,6),(140,-.1,.6,6),(143,-.15,.45,19.4),(143.2,-.22,.35,7),(146.5,-.17,.78,4),(149.6,-.23,.62,19),(153.4,-.22,.18,13.4),
    (153.4,-.32,.42,13),(157.3,-.33,.68,11),(152.3,-.46,.45,14),(155.2,-.5,.78,8),(143.6,-.4,.2,6),(143.6,-.5,.75,7),(146.2,-.52,.42,12),(146.2,-.67,.3,16),(127.6,-.73,.12,9),
    (133.9,-.89,.65,8.7),(137.9,-.9,.42,5.8),(137.6,-.68,.45,4.4),(134.3,-.62,.85,2),(147.9,-1.01,.35,4.4),(154.8,-1.04,.12,4.4),(154.5,-.85,.12,8.5),(158.8,-.79,.28,11),
    (158.4,-.57,.42,12.6),(157.4,-.66,.25,11),(158.6,-.87,.28,8.5),(161.3,-.96,.25,14),(158.7,-1.01,.72,7.3),(167.4,-.88,.3,6.3),(173.6,-.76,.22,7.3),(166.4,-.48,.62,25.5),
    (168.9,-.51,.65,6.8),(160.4,-.27,.15,9),(163.7,-.21,.25,8.5),(167.7,-.21,.35,7.3),(171.4,-.2,.72,10),(167.7,-.16,.15,11),(156.7,-1.41,.1,6),(154.1,-1.71,.35,7.3),
    (134.6,-1.87,.2,14),(190.1,-1.93,.45,17),(199.4,-1.35,.1,1.5),(179.2,-.29,.5,15),(184.2,-.42,.65,5.8),(182.3,-.1,.25,12),(187.8,-.49,.48,13.4),(191.6,-.5,.68,10),
    (187.8,-.31,.6,15),(186,-.18,.55,10),(191.8,-.38,.78,11),(191.8,-.23,.82,11),(190.3,-.12,.35,25.5),(196.5,-.17,.65,12),(196.5,-.08,.55,13.4),(198.4,-.34,.12,12.6),
    (196.8,-.41,.25,8.5),(195.8,-.31,.3,6),(190.1,-.9,.5,17),(197.8,-1.13,.45,15),(205.3,-.39,.65,9.2),(207.5,-.43,.55,8.5),(208.6,-.5,.55,6.3),(212,-.52,.55,7.3),(213.7,-.51,.72,7.3),
    (206.3,-.17,.1,8.5),(209.3,-.32,.1,11.6),(210.8,-.25,.2,7.3),(213.7,-.35,.3,7),(215.5,-.29,.42,11),(214.6,-.28,.62,8),(207.1,-.23,.42,14.6),(210.8,-.18,.45,13),
    (207.3,-.64,.3,17.5),(206.3,-.56,.2,11),(205.3,-.8,.18,22),(210.8,-.7,.62,12.6),(210.8,-.84,.45,10),(198.8,-.8,.2,9.2),(215.7,-.8,.32,11),(220.9,-.85,.62,14.6),(220.6,-.83,.35,13.6),
    (225.2,-.85,.6,9),(220.9,-1.06,.75,16),(223,-1.16,.62,7.3),(211.6,-1.21,.38,5.3),(225.2,-.62,.65,20.6),(220.8,-.49,.62,18),(220.8,-.65,.9,7.3),(224,-.43,.3,8.5),(225.1,-.28,.62,22),
    (220.4,-.08,.55,26),(218,-.57,.25,7),(234.5,-.62,.68,3),(231.6,-.7,.62,6.3),(236.9,-.8,.42,9),(241.3,-.62,.12,6.3),(241.3,-.87,.12,6.3),(232.9,-.99,.3,11),(241.5,-.99,.75,6.3),
    (221.6,-1.41,.78,9.2),(220.3,-1.6,.18,26),(210.7,-1.72,.38,13.4),(230.9,-1.66,.55,8.7),(236.9,-1.53,.62,9),(237.2,-1.75,.35,13.4),(236.9,-1.86,.2,9),(238.8,-.29,.75,16.5),
    (238.8,-.52,.72,17),(242,-.42,.4,7),(232,-.3,.62,6),(230,-.24,.62,6),(121.3,-.18,.65,9),(160,-.1,.65,10),(170,-.1,.78,10),(200,-.1,.7,8),
    (262.9,-.16,.55,10.5),(262.9,-.25,.52,9.7),(257.3,-.35,.62,17),(260.3,-.37,.18,10),(266.9,-.33,.3,12.5),(269.6,-.33,.4,8),(274.5,-.34,.3,10),(247.2,-.31,.65,11),(247.2,-.4,.25,10),
    (244.1,-.33,.38,10),(279.9,-.19,.58,11),(281.2,-.41,.72,12.5),(282.6,-.49,.33,20.8),(285,-.34,.3,7),(285,-.19,.55,11),(287.5,-.3,.55,8),(290,-.3,.5,7),(293.3,-.2,.65,11),
    (294.8,-.27,.22,11),(288.8,-.2,.3,5.5),(269.7,-.53,.72,19),(272.1,-.53,.62,11),(277,-.59,.5,11),(260.3,-.65,.75,9),(262,-.56,.8,3),(265.8,-.56,.5,4),(265.6,-.81,.6,6),
    (285,-.64,.72,7),(276.6,-.84,.3,9),(280,-.87,.32,12),(284.5,-.92,.75,4),(289.2,-1.03,.18,6),(291.5,-.73,.1,5),(255,-1.1,.12,12),(260.3,-1.13,.22,8),(252,-1.46,.22,9),
    (284.5,-1.46,.5,5),(284,-1.56,.15,4),(236.8,-1.53,.6,11),(237,-1.75,.35,13),(244,-.83,.15,11),(241.3,-.87,.1,7),(236.8,-.8,.42,9),(241.3,-1,.72,7),(244.3,-1.01,.35,4),
    (302.2,-.24,.38,16.6),(301.3,-.31,.6,14),(304.9,-.4,.3,20),(304.9,-.33,.2,12.5),(309.5,-.38,.12,8),(310,-.28,.2,7),(312.5,-.27,.5,11),(313.4,-.4,.55,7),(317.4,-.22,.25,14),
    (319.2,-.33,.6,12.5),(318.8,-.41,.75,16.6),(322,-.25,.78,8),(331,-.33,.62,8),(332.6,-.3,.5,10),(336.5,-.41,.38,12.5),(337,-.22,.65,11),(329,-.27,.6,7),(333.5,-.26,.62,14),
    (325,-.16,.7,10),(344.2,-.27,.58,12.5),(346.5,-.27,.55,12.5),(348,-.38,.38,8),(342.5,-.3,.75,10),(356.3,-.37,.8,10),(357.7,-.37,.1,10),(353,-.33,.65,7),(350.5,-.23,.72,7),
    (358.5,-.23,.55,10),(362.1,-.4,.25,14),(362.1,-.19,.4,11),
    (302,-.76,.77,22),(303.5,-.95,.1,17),(302,-.63,.2,14),(306.5,-.59,.4,13),(310.5,-.62,.15,11),(310.5,-.7,.35,7),(310.5,-.78,.65,5),(314,-.65,.9,12),(315.5,-.74,.32,14),
    (319,-.87,.2,14),(320.3,-.99,.75,13),(318,-1.06,.35,22),(320.3,-1.19,.85,19),(311.6,-1.11,.85,10),(313.8,-1.18,.12,10),(314.4,-1.29,.2,4),(306,-1.15,.38,14),(301.5,-1.21,.52,16),
    (322.5,-.86,.25,7),(327.5,-.97,.38,14),(336,-1.04,.38,15),(332,-1.12,.1,14),(330,-1.21,.55,10),(332.3,-1.32,.58,14),(331.6,-1.44,.65,17),(337.2,-.68,.72,11),(331.7,-.74,.68,17),
    (337.2,-.78,.32,11),(331.5,-.86,.12,12),(325.5,-.66,.38,11),(322,-.6,.22,7),(325.5,-.55,.4,10),(323.7,-.5,.15,7),(329.6,-.52,.15,7),(330.5,-.62,.25,10),(339.7,-.56,.2,11),
    (346.7,-.52,.1,14),(348.4,-.54,.5,5),(348.4,-.68,.55,6),(346.7,-.82,.55,14),(346.2,-1.01,.5,10),(342,-1.34,.92,7),(342.5,-1.46,.5,13),(355.4,-1.28,.62,11),(362,-1.27,.5,14),
    (362,-1.52,.12,17),(364.8,-1.1,.35,12),(365,-1.1,.45,6),(355.4,-.66,.72,9),(358,-.63,.45,7),(356,-.72,.38,9),(360.3,-.55,.55,6),(314,-1.71,.3,15),(312,-1.8,.2,13),(315,-1.81,.22,9),
    (319,-1.85,.2,10),(324,-1.97,.55,18),(329,-1.92,.18,14),(332,-1.95,.2,7),
]
# larger warm and dark picks either side of the band
s_big_warm = [
    (5,-.14,.25,13),(13,.18,.72,10),(17,-.14,.55,14),(24,.16,.75,13),(31,-.15,.6,15),(39,.16,.55,12),(44,-.16,.72,14),(50,-.14,.42,14),(56,.15,.62,14),(63,-.14,.55,14),(70,.14,.55,14),(77,-.14,.72,14),(84,.15,.7,15),(92,-.13,.55,14),
    (96,.16,.68,12),(106,-.15,.65,14),(112,.14,.6,12),(120,.15,.45,14),(126,-.14,.55,16),(132,.15,.62,15),(139,-.13,.72,14),(145,.12,.62,20),(151,-.16,.65,20),(158,.15,.72,18),(164,-.14,.55,16),(170,.14,.62,16),(176,-.15,.68,14),
    (183,.15,.62,15),(189,-.18,.45,18),(197,.15,.65,14),(203,-.14,.62,16),(209,.16,.72,20),(215,-.15,.6,14),(222,-.14,.5,20),(228,.14,.55,12),(235,-.13,.6,12),(242,-.12,.55,12),(251,.12,.62,10),(257,-.15,.45,16),(263,.14,.7,12),
    (270,-.15,.62,15),(277,.14,.68,14),(283,-.15,.58,16),(291,.13,.7,12),(299,-.13,.62,12),(305,.16,.55,15),(311,-.14,.35,14),(317,.15,.7,14),(323,-.15,.62,14),(329,.14,.72,14),(335,-.14,.62,14),(342,.15,.55,14),(347,-.14,.7,14),
    (352,.13,.72,14),(358,-.14,.55,14),(364,.12,.4,14),
]
# warm picks around the central band
s_flank = [
    (2,-.12,.65,9),(5,-.1,.2,10),(8,.12,.75,8),(10,-.12,.68,9),(13,.1,.8,9),(16,.1,.72,7),(18,-.1,.72,10),(20,.12,.7,9),(24,-.12,.5,12),(26,.12,.72,8),(29,.13,.68,12),(32,-.13,.55,10),(34,.12,.72,10),(37,-.1,.45,9),
    (39,.1,.62,10),(41,-.12,.35,9),(44,.12,.68,9),(46,-.1,.6,9),(49,.12,.62,9),(51,.17,.55,9),(53,-.12,.55,11),(55,.12,.7,11),(57,-.13,.42,11),(60,.12,.68,12),(62,-.12,.5,9),(64,.14,.68,8),(67,.1,.75,9),(69,-.1,.72,9),
    (72,.1,.62,10),(75,-.12,.62,13),(78,.12,.68,9),(80,-.08,.55,9),(82,.12,.72,10),(86,.12,.55,12),(88,-.13,.62,11),(91,.13,.55,8),(93,-.11,.65,9),(96,.13,.62,9),(99,-.1,.45,10),(101,.13,.62,9),(104,-.14,.55,10),(106,.11,.5,8),
    (109,-.12,.4,12),(112,.12,.72,9),(114,-.13,.42,12),(117,.13,.65,10),(119,-.1,.6,9),(122,-.12,.55,10),(125,.13,.7,9),(127,-.12,.68,9),(128,.1,.55,8),(131,-.12,.55,13),(133,.1,.55,7),(136,-.12,.72,9),(139,.1,.6,6),
    (141,-.13,.6,10),(146,-.1,.6,14),(148,.12,.68,9),(150,-.1,.55,12),(152,.12,.6,13),(155,-.12,.72,11),(157,.13,.72,11),(160,.13,.75,9),(162,-.12,.62,11),(164,.1,.6,10),(169,.12,.68,10),(172,-.12,.62,11),(175,.12,.75,11),
    (177,-.12,.68,9),(181,.12,.72,10),(184,-.13,.62,9),(187,.13,.55,10),(193,.1,.55,10),(195,.12,.7,10),(200,.12,.65,10),(202,-.12,.55,9),(204,.13,.78,12),(209,-.12,.68,13),(212,.12,.55,10),(214,-.11,.78,9),(217,.12,.62,11),
    (219,-.12,.62,15),(222,.12,.62,12),(227,-.08,.65,9),(229,.1,.55,8),(231,-.1,.72,7),(233,.08,.68,7),(235,-.09,.55,6),(237,.1,.68,7),(240,-.09,.68,7),(243,.08,.55,8),(245,-.07,.62,7),(248,-.1,.55,6),(250,.08,.72,6),
    (253,-.1,.62,7),(255,.1,.75,10),(256,-.12,.6,10),(258,-.22,.55,16),(261,.1,.75,8),(263,-.1,.72,7),(266,.09,.65,9),(268,.17,.7,8),(270,-.12,.6,14),(272,.1,.58,8),(276,.1,.72,10),(278,.16,.72,9),(281,-.1,.62,14),(283,.15,.72,14),
    (285,-.1,.65,10),(287,.08,.62,10),(289,-.1,.55,9),(291,.1,.72,8),(292,-.08,.68,7),(295,.08,.72,7),(297,-.1,.35,8),(298,.12,.68,9),(300,-.07,.45,8),(303,.13,.72,10),(306,-.1,.32,10),(308,.12,.62,12),(310,-.1,.62,9),(312,.13,.8,10),
    (314,-.1,.25,11),(316,.1,.72,11),(318,-.1,.28,12),(320,.12,.72,10),(322,-.12,.58,10),(324,.12,.72,10),(327,-.1,.62,11),(328,.13,.68,11),(330,-.12,.72,11),(332,.13,.62,10),(334,-.1,.6,12),(336,.13,.55,11),(338,-.12,.68,11),
    (340,.1,.52,10),(341,-.1,.3,14),(343,-.13,.58,11),(345,.12,.65,10),(347,-.1,.62,11),(349,.11,.72,10),(351,-.12,.68,11),(353,.08,.68,10),(354,-.1,.72,10),(356,-.12,.65,9),(358,.1,.62,10),(360,-.11,.4,12),(363,.08,.55,11),(365,-.15,.35,12),
]
s_yellow = [
    (3.1,.14,.8,12),(2.9,-.05,.97,12),(6.8,.06,.92,11),(11.7,.07,.9,14.6),(8.3,-.03,.5,12),(11,-.02,.8,7),(15.4,.06,.82,6),(17.3,.02,.78,8.5),(22.4,.1,.88,18),(23,-.03,.95,7),(18.8,-.03,.82,8.5),
    (28.3,.07,.85,14.6),(27,.01,.65,17),(31,.02,.75,11),(33.3,.04,.95,8.5),(36.9,.09,.88,10),(41,.01,.72,10),(39,.06,.68,10),(43,.11,.38,11),(47,.11,.88,11),(47.8,0,.95,8.5),(52.9,.05,.95,18),
    (51.7,-.05,.85,12),(59.5,.05,.72,15.8),(54.5,-.02,.72,7.3),(56.3,-.01,.88,6),(63.9,.05,.88,10),(67.4,-.02,.8,7.3),(70.5,.01,.97,14.6),(76,.05,.92,19),(76.8,.0,.8,11),(81.8,0,.85,12),(85,.02,.95,10),
    (86.9,-.09,.92,14.6),(92,.03,.8,11),(98.6,.06,.92,12),(94,0,.9,8.5),(107,-.03,.97,7.3),(107.4,.1,.82,8.5),(111.2,.05,.9,14.6),(115,.05,.82,8.5),(119.4,.01,.95,6),(117,.06,.5,11),
    (5,.05,.78,7),(14,.0,.85,8),(26,.05,.85,8),(35,-.03,.82,7),(45,.03,.8,7),(50,.05,.85,7),(62,0,.9,7),(74,.02,.85,7),(79,.02,.85,7),(88,.03,.95,7),(90,.05,.9,7),(96,.03,.88,7),(101,.02,.95,7),(104,.01,.9,7),(109,.04,.95,7),(113,.02,.92,6),
    (144.1,.05,.92,24),(166.4,.04,.97,24),(190.3,.1,.88,23),(189.9,0,.9,23),(210.6,.02,.97,13),(225.2,-.01,.97,20),(225.1,-.15,.93,12),(179.3,.13,.82,19),(123,.06,.9,18),(129.7,.07,.6,19),
    (124,-.0,.72,7.3),(135.1,0,.78,14),(136.3,.07,.85,7.3),(138.3,-.03,.8,6),(149.2,.07,.92,14),(156.3,.12,.85,12),(158.2,.14,.82,11),(161.3,.05,.95,10),(167.6,.02,.95,8.5),(171.9,.09,.72,14.6),
    (173,.02,.78,14.6),(171.1,-.03,.85,10),(183.2,.09,.92,12),(180.5,.05,.9,12),(194.6,.09,.96,11),(192.6,.07,.96,10),(198.5,.06,.85,14.6),(204.7,.05,.88,19),(207.9,.14,.75,22),(215.3,.02,.85,10),(213.7,.11,.72,7.3),
    (220,-.03,.62,17),(230.2,.1,.72,5.3),(230,.05,.72,6),(232.1,.02,.72,8.5),(234.8,.12,.68,10),(238.4,.09,.9,4.4),(240.7,.04,.92,7.3),(234.5,0,.8,7.3),(230.5,-.03,.75,6),(232.9,-.13,.85,7.3),(238.8,-.15,.85,14.6),
    (364.4,0,.88,14),(361.7,.02,.92,11),(355.4,-.01,.85,8),(358.6,-.01,.95,7),(355.9,-.15,.85,10),(353.6,-.25,.88,8),(345,-.08,.85,11),(339.8,.03,.97,12.5),(335.7,.05,.95,16.6),(331.7,.02,.9,16.6),(326.8,-.2,.82,15),
    (326.4,.09,.82,16.6),(319.7,.05,.92,11),(317.4,.12,.88,16.6),(315.6,.03,.9,11),(309.8,.12,.9,10),(307.6,.06,.92,14),(304.9,.07,.9,16.6),(301.3,.02,.92,14),(297.8,.12,.82,12.5),(296.9,-.09,.92,8),(292.8,.02,.92,11),
    (290.6,.2,.88,12.5),(286.1,.03,.9,15),(283,.05,.92,12.5),(280.3,.07,.82,16.6),(277.2,.09,.82,11),(275,.05,.97,11),(271.8,.03,.9,14),(269.2,-.08,.85,12.5),(275.4,-.08,.8,10),(262.9,.06,.92,10),(258,0,.78,15),(252.2,.07,.85,10),
    (247.2,.03,.92,12.5),(244.1,.07,.9,7),(240.5,.03,.88,10),(239.6,-.09,.85,8),(242,.03,.85,8),(249.5,.01,.9,7),(254,.02,.8,8),(264.5,-.02,.8,8),(267,.02,.85,7),(288,.05,.85,8),(300,-.02,.9,8),(311,.06,.85,9),(313,-.02,.8,9),
    (322,.04,.85,9),(324,.01,.92,8),(329,-.03,.85,9),(334,.02,.9,8),(337,-.05,.8,8),(341,-.02,.78,9),(343,.06,.8,8),(348,.0,.85,8),(351,-.02,.92,8),(359,.02,.9,8),(363,-.08,.8,9),
    (1,.02,.8,9),(4,.07,.88,8),(7,.01,.85,9),(9,.06,.92,8),(12,-.03,.8,8),(15,-.02,.72,8),(19,.06,.85,7),(21,.01,.78,8),(25,.02,.9,9),(29,-.02,.78,10),(30,.06,.82,10),(32,.08,.9,9),(35,.06,.85,9),(37,.02,.72,9),
    (40,-.03,.78,9),(42,.05,.85,9),(44,-.01,.72,8),(46,.06,.92,9),(49,.02,.95,8),(53,-.04,.78,8),(55,.06,.85,9),(57,.02,.72,10),(61,.06,.78,8),(65,.02,.85,8),(66,-.04,.72,8),(68,.05,.9,9),(72,.05,.88,9),(73,-.04,.78,8),
    (78,-.02,.82,9),(80,.05,.88,8),(83,.05,.72,10),(84,-.03,.85,8),(86,.07,.82,8),(89,.01,.9,9),(91,-.02,.82,8),(93,.05,.82,9),(95,-.04,.72,8),(97,.01,.9,8),(99,-.02,.78,8),(100,.07,.88,8),(102,-.02,.82,8),(105,.05,.85,8),
    (106,-.03,.78,7),(108,.02,.9,8),(110,-.02,.85,8),(112,.08,.88,7),(114,-.03,.72,9),(116,.02,.85,8),(118,-.03,.78,8),(120,.05,.85,7),(122,.02,.8,9),(125,-.03,.85,9),(127,.05,.82,10),(128,-.02,.78,9),(131,.01,.72,10),(133,.04,.8,8),
    (137,.02,.85,8),(140,.04,.82,8),(142,-.02,.8,10),(146,-.03,.85,10),(148,.04,.85,9),(151,.02,.88,10),(153,.05,.82,9),(155,.04,.85,10),(157,-.02,.82,10),(159,.05,.85,10),(163,.02,.85,10),(165,.08,.78,9),(169,.02,.88,10),
    (170,.07,.78,9),(174,.05,.85,10),(176,.0,.82,9),(178,.05,.88,12),(182,.03,.85,8),(185,.05,.8,9),(187,.03,.85,10),(193,.02,.92,10),(195,.03,.88,10),(197,.0,.8,10),(200,.03,.85,9),(201,.08,.8,9),(203,.02,.88,12),(206,-.01,.9,13),
    (209,.06,.85,10),(212,.04,.8,10),(214,.01,.82,9),(216,.06,.8,9),(218,.03,.78,8),(222,.06,.72,10),(224,.02,.78,10),(226,.06,.88,9),(228,.02,.72,7),(231,.07,.82,6),(233,.05,.85,6),(236,.02,.82,6),(237,.05,.72,6),(239,.02,.88,7),
    (241,-.02,.8,7),(243,.02,.92,7),(245,.02,.82,7),(246,.06,.85,7),(248,.0,.8,7),(250,.05,.88,7),(252,-.01,.8,7),(255,.05,.78,9),(256,.0,.82,9),(259,.06,.85,9),(261,.02,.8,8),(263,.0,.85,7),(265,.05,.88,8),(268,.03,.92,9),(270,-.01,.85,8),
    (273,.05,.82,9),(274,0,.88,9),(276,.02,.85,8),(278,.04,.92,9),(279,-.03,.8,9),(281,.04,.85,9),(282,-.03,.88,8),(284,.02,.92,9),(285,-.05,.8,8),(287,.02,.88,9),(289,.04,.92,8),(290,-.02,.78,7),(291,.02,.82,7),(294,.04,.85,8),
    (295,-.02,.78,7),(296,.04,.92,8),(298,.02,.85,9),(299,.07,.82,8),(302,.07,.88,12),(303,-.02,.92,9),(305,.01,.88,10),(306,.06,.9,12),(308,.01,.92,11),(309,.07,.92,10),(311,.01,.88,10),(312,.06,.88,9),(314,.01,.82,9),(315,.07,.85,9),
    (317,-.02,.88,9),(318,.05,.9,9),(320,0,.88,9),(321,.06,.85,8),(323,0,.8,9),(325,.06,.85,9),(327,.01,.92,10),(328,.06,.88,9),(330,-.02,.82,9),(331,.07,.85,8),(333,-.01,.88,9),(336,.0,.85,9),(338,.06,.82,8),(340,0,.78,9),(342,.04,.85,9),
    (344,.01,.8,9),(346,.06,.82,8),(347,-.03,.88,9),(349,.02,.78,8),(350,.07,.85,7),(352,.01,.72,9),(353,.06,.85,8),(356,.05,.88,8),(357,-.03,.85,8),(360,-.02,.85,9),(362,.06,.88,8),(363,-.02,.92,8),(365,.04,.85,9),(366,-.03,.78,9),
    (3,0,.85,12),(11,.03,.92,12),(22,.03,.9,14),(28,.03,.85,14),(36,.03,.82,12),(43,.02,.78,12),(53,.02,.88,14),(59,-.02,.78,14),(70,.04,.92,12),(75,-.02,.88,14),(82,.03,.72,14),(92,-.01,.85,12),(99,.03,.95,12),(111,0,.82,14),
    (125,.03,.85,14),(135,.04,.78,14),(144,0,.9,16),(152,.05,.8,12),(158,.01,.78,14),(167,0,.92,18),(178,.02,.88,16),(190,.03,.92,18),(199,.01,.85,13),(206,.03,.88,16),(216,.03,.72,12),(225,.03,.92,16),(234,.03,.78,9),
    (258,.03,.82,12),(271,-.01,.88,13),(283,.01,.85,14),(292,-.01,.92,10),(304,.02,.92,15),(310,.03,.88,14),(317,.01,.85,14),(326,.02,.82,15),(332,.03,.88,14),(339,.01,.95,12),(346,0,.78,12),(354,.02,.75,12),(364,0,.85,14),
]

# histogram counts per bin, top to bottom of each range
hist_p_core = [9,8,6,9,7,8,10,9,8,11,12,9,13,15,18,20,14,17,22,24,26,28,32,55,95,150,215,300,370,425,500,468,440,395,345,300,255,210,175,158,150,138,122,118,105,98,82,72,68,70,62,58,45,42,38,40,36,34,35,30,32,28,30,26,24,28,22,26,27,20,24]
hist_p_up = [1,2,1,1,2,1,3,2,1,2,3,2,4,3,2,4,3,5,3,4,6,5,4,6,5,8,6,7]
hist_p_low = [20,22,18,16,19,15,17,14,16,13,15,12,14,11,13,10,12,11,9,12,10,8,11,9,7,10,18,9,7,6,8,7,5,6,6,7,5,6,4,7,5,4,3,5,4,3,2,4,3,3,2,3,4,2,3,2,3,4,3,2,3,2]
hist_s_core = [3,3,4,3,4,5,4,5,4,5,6,5,6,6,7,7,8,7,10,12,13,12,19,18,22,24,32,42,52,62,72,84,92,98,105,112,124,120,118,102,88,70,55,45,38,30,28,24,26,22,20,16,15,14,12,13,11,10,11,9,10,8,9,8,7,8,6,7,6,7,5,6,5,7,4,5,6,4,5,4,3]
hist_s_up = [1,0,1,1,0,1,1,1,2,1,1,2,1,1,2,3,2,2,3,2,3,2,3,3,4]
hist_s_low = [4,3,3,4,3,2,4,3,3,2,3,2,3,2,2,3,2,2,1,2,3,2,1,2,2,1,2,1,1,2,1,2,1,1,2,1,1,2,1,1,1,2,1,1,1,2,1,1,1,1,2,1,1,1,1,2,1,1,1,1,2,1,2,1]

fit_p_dt = [2,.16,.13,.104,.074,.044,.015,-.024,-.059,-.083,-.113,-.142,-.18,-.22,-2]
fit_p_count = [1,1,3,9,68,221,368,405,221,68,27,9,2,1,1]
emp_p_dt = [2,.2,.16,.1,.074,.03,0,-.01,-.044,-.074,-.104,-.15,-.19,-.237,-.3,-.38,-2]
emp_p_count = [1,1,3,12,32,220,370,466,250,160,133,97,44,20,4,1,1]
fit_s_dt = [2,.35,.3,.26,.22,.18,.15,.12,.09,.06,.036,.015,-.015,-.045,-.075,-.12,-.165,-.25,-2]
fit_s_count = [.5,.5,.5,1.5,5,12,23,52,80,100,108,94,60,32,14,5.5,1.4,.5,.5]
emp_s_dt = [2,.6,.52,.4,.28,.18,.15,.075,.036,.015,-.015,-.045,-.09,-.12,-.19,-.31,-.46,-.61,-.7,-2]
emp_s_count = [.5,.5,1.4,3,6,12,21,70,116,90,55,36,19,16.5,10,5.5,2,.7,.5,.5]
stale_s_ticks = [23.8, 47.1, 70.5, 93.8, 117.2]


def px_rect(x0, y0, x1, y1):
    return [x0 / W, 1 - y1 / H, (x1 - x0) / W, (y1 - y0) / H]


def ftext(x, y, s, **kw):
    kw.setdefault("rotation", 270)
    kw.setdefault("ha", "center")
    kw.setdefault("va", "top")
    kw.setdefault("family", "Open Sans")
    return fig.text(x / W, 1 - y / H, s, **kw)


def bubbles(ax, groups):
    for rows in groups:
        rows = sorted(rows, key=lambda r: -r[3])
        day, dt, prob, size = np.array(rows).T
        pts = ax.scatter(day, dt, c=prob, s=(size * 1.324) ** 2, cmap="inferno", vmin=0, vmax=1,
                         edgecolors="#1c1c1c", linewidths=0.8, zorder=3)
        pts.set_clip_path(Rectangle((-0.01, 0), 1.02, 1.04, transform=ax.transAxes))


def main_panel(box, color, groups, label, label_x, label_y, label_color):
    ax = fig.add_axes(px_rect(*box))
    ax.set_xlim(0, 366)
    ax.set_ylim(-2, 2)
    for v in [-1, 1]:
        ax.axhline(v, color="#a8a8a8", lw=2, zorder=1)
    for v in [-0.5, 0.5]:
        ax.axhline(v, color="#a8a8a8", lw=2, ls=(0, (4, 3)), zorder=1)
    bubbles(ax, groups)
    ax.set_xticks(month_days, month_names, family="Liberation Serif", fontsize=27, color="#333333")
    ax.set_yticks([-2, -1, 0, 1, 2], ["-2", "-1", "0", "1", "2"], family="Liberation Serif", fontsize=27, color="#333333")
    ax.tick_params(axis="x", direction="in", length=13, width=1, color="#444444", pad=15)
    ax.tick_params(axis="y", direction="in", length=15, width=1, color="#444444", pad=9)
    for s in ax.spines.values():
        s.set_color(color)
        s.set_linewidth(2.6)
        s.set_zorder(5)
    ax.text(label_x, label_y, label, family="Open Sans", style="italic", weight="bold", fontsize=47, color=label_color)
    return ax


def hist_panel(box, color, fill, xmax, xstep, core, up, low, core_top, fit, emp):
    ax = fig.add_axes(px_rect(*box))
    ax.set_xlim(0, xmax)
    ax.set_ylim(-2, 2)
    ax.grid(True, color="#dcdcdc", lw=1.2, zorder=0)
    core_dt = core_top - 0.01 * np.arange(len(core))
    ax.barh(core_dt, core, height=0.01, color=fill, zorder=2)
    up_dt = core_top + 0.02 * np.arange(len(up), 0, -1)
    ax.barh(up_dt, up, height=0.012, color=fill, zorder=2)
    low_dt = core_dt[-1] - 0.02 * np.arange(1, len(low) + 1)
    ax.barh(low_dt, low, height=0.012, color=fill, zorder=2)
    ax.plot(emp[1], emp[0], color="#22dd22", lw=2.4, zorder=3)
    ax.plot(fit[1], fit[0], color="black", lw=2.6, zorder=4)
    ax.xaxis.tick_top()
    ax.set_xticks(np.arange(0, xmax + 1, xstep))
    ax.set_yticks(np.arange(-2, 2.1, 0.5), ["-2", "-1.5", "-1", "-0.5", "0", "0.5", "1", "1.5", "2"])
    ax.tick_params(axis="x", direction="in", length=4, labelsize=13, labelrotation=270, colors="#444444", pad=6)
    ax.tick_params(axis="y", direction="in", length=0, labelsize=19, labelrotation=270, colors="#333333", pad=8)
    for lab in ax.get_xticklabels():
        lab.set_family("Liberation Serif")
    for lab in ax.get_yticklabels():
        lab.set_family("Liberation Sans")
        lab.set_va("center")
    for v in np.arange(-1.5, 1.6, 0.5):
        ax.plot([xmax * 0.985, xmax], [v, v], color="#444444", lw=1, zorder=4)
    for s in ax.spines.values():
        s.set_color(color)
        s.set_linewidth(3)
        s.set_zorder(6)
    return ax


fig = plt.figure(figsize=(W / 100, H / 100), dpi=100)
fig.patch.set_facecolor("white")

# corner fragment at the top of the page
corner = Path([(148, 0), (215, 15), (258, 46), (245, 0), (148, 0)],
              [Path.MOVETO, Path.CURVE3, Path.CURVE3, Path.LINETO, Path.CLOSEPOLY])
fig.add_artist(PathPatch(corner.transformed(matplotlib.transforms.Affine2D().scale(1 / W, -1 / H).translate(0, 1)),
                         facecolor="#262626", edgecolor="none", transform=fig.transFigure))

cax = fig.add_axes(px_rect(194, 103, 1653, 134))
cax.imshow(np.linspace(0, 1, 512)[None, :], cmap="inferno", aspect="auto", extent=(0, 1, 0, 1))
cax.set_yticks([])
cax.set_xticks(prob_ticks, prob_labels, family="Open Sans", fontsize=21)
cax.tick_params(axis="x", direction="in", length=5, width=0.8, color="#666666", pad=9)
for s in cax.spines.values():
    s.set_color("#444444")
    s.set_linewidth(1)
ftext(923, 75, "PHASENET Pick-Probabilities", rotation=0, va="center", style="italic", fontsize=23)
ftext(2286, 110, "31 Stations RESIF FR Sud-Ouest, 2020", rotation=0, va="center", style="italic", weight="bold", fontsize=41)

main_panel((178, 180, 2265, 748), "#1078C0",
           [p_above, p_below_a, p_below_b, p_flank, p_peaks, p_gold, p_big_warm, p_yellow, p_dark_top],
           "Pointés P", 49.5, 1.56, "#1B1464")
main_panel((178, 827, 2265, 1399), "#C4262E",
           [s_above, s_below_a, s_below_b, s_flank, s_big_warm, s_yellow],
           "Pointés S", 50, 1.56, "#C4262E")

hist_panel((2422, 182, 2832, 751), "#1078C0", "#0000FF", 600, 100, hist_p_core, hist_p_up, hist_p_low, 0.30,
           (fit_p_dt, fit_p_count), (emp_p_dt, emp_p_count))
ax_s = hist_panel((2420, 832, 2832, 1399), "#C4262E", "#C1272D", 140, 20, hist_s_core, hist_s_up, hist_s_low, 0.40,
                  (fit_s_dt, fit_s_count), (emp_s_dt, emp_s_count))
ax_s.vlines(stale_s_ticks, -2, -1.96, color="#333333", lw=1, zorder=5)
ax_s.axhline(-1.985, color="#333333", lw=1, zorder=5)

# rotated axis captions
for y0, sym in [(0, "P"), (650, "S")]:
    ftext(2340, 266 + y0, "t", fontsize=44, style="italic")
    ftext(2335, 292 + y0, sym, fontsize=27, style="italic")
    ftext(2306, 316 + y0, "RENASS", fontsize=18, style="italic")
    ftext(2340, 404 + y0, "-", fontsize=22, weight="bold")
    ftext(2340, 424 + y0, "t", fontsize=44, style="italic")
    ftext(2335, 450 + y0, sym, fontsize=27, style="italic")
    ftext(2306, 466 + y0, "PHASENET", fontsize=18, style="italic")
    ftext(2331, 584 + y0, "(sec)", fontsize=30, style="italic")

# summary boxes
for box, edge in [((2733, 491, 2818, 735), "#1078C0"), ((2733, 1134, 2818, 1378), "#F0622D")]:
    x0, y0, x1, y1 = box
    fig.add_artist(FancyBboxPatch((x0 + 22, H - y1 + 22), x1 - x0 - 44, y1 - y0 - 44, boxstyle="round,pad=22,rounding_size=26",
                                  facecolor="#f0f0f0", edgecolor=edge, linewidth=2.6,
                                  transform=matplotlib.transforms.Affine2D().scale(1 / W, 1 / H) + fig.transFigure, zorder=6))

for yb, sub, mu, sig, eq, mu_y, sig_y in [(0, "P", "- 0.024 sec", "0.062 sec", 552, 580, 595),
                                          (643, "S", "+ 0.027 sec", "0.089 sec", 552, 583, 606)]:
    ftext(2795, 511 + yb, "μ", fontsize=22, weight="bold", zorder=7)
    ftext(2781, 528 + yb, sub.lower() if yb else sub, fontsize=11, zorder=7)
    ftext(2795, eq + yb, "=", fontsize=20, zorder=7)
    ftext(2795, mu_y + yb, mu, fontsize=20, weight="semibold", zorder=7)
    ftext(2761, 511 + yb, "σ", fontsize=22, weight="bold", zorder=7)
    ftext(2747, 528 + yb, sub.lower() if yb else sub, fontsize=11, zorder=7)
    ftext(2761, eq + yb, "=", fontsize=20, zorder=7)
    ftext(2761, sig_y + yb, sig, fontsize=20, weight="semibold", zorder=7)

ftext(2789, 208, "P", fontsize=31, style="italic", weight="bold", color="#1078C0")
ftext(2765, 235, "picks", fontsize=19, style="italic", weight="bold", color="#1078C0")
ftext(2789, 868, "S", fontsize=31, style="italic", weight="bold", color="#C4262E")
ftext(2765, 891, "picks", fontsize=19, style="italic", weight="bold", color="#C4262E")

fig.savefig("out.png", dpi=100)
